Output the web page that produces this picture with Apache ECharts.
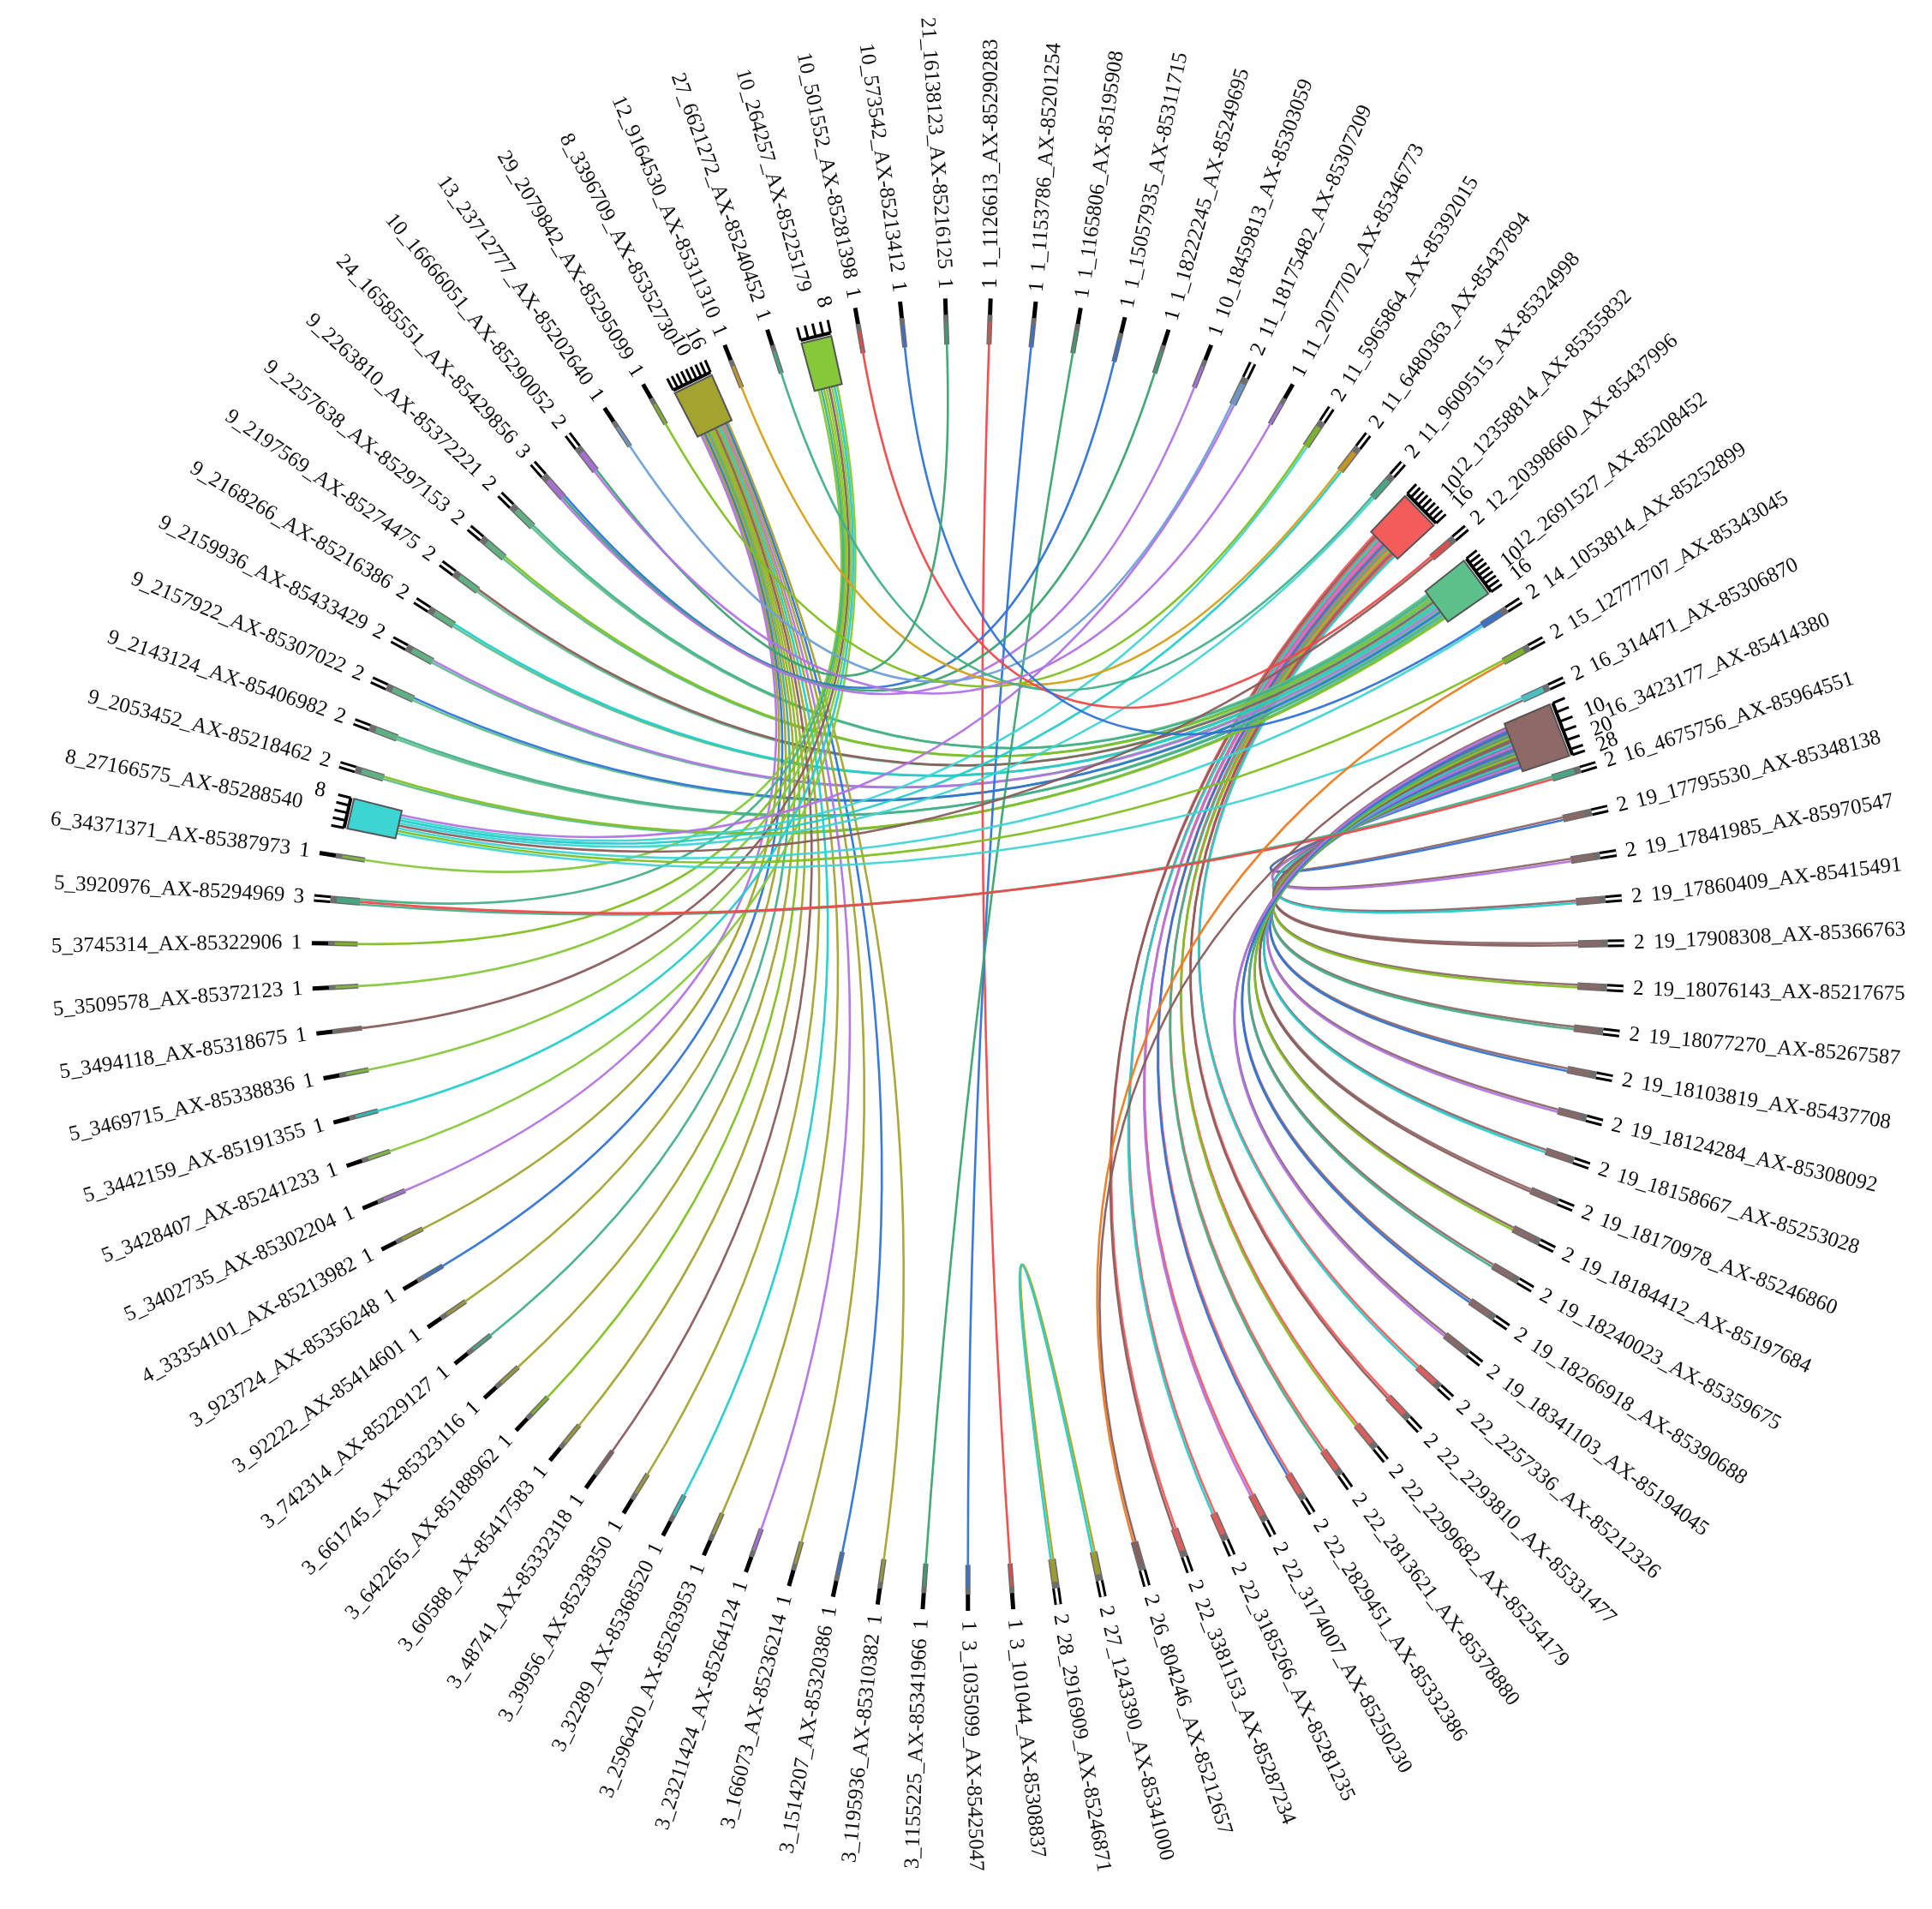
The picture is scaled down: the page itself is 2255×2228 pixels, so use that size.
<!DOCTYPE html>
<html>
<head>
<meta charset="utf-8">
<script src="https://cdn.jsdelivr.net/npm/echarts@6/dist/echarts.min.js"></script>
<style>html,body{margin:0;padding:0;background:#fff}#main{width:2255px;height:2228px}</style>
</head>
<body>
<div id="main"></div>
<script>
// markers, clockwise from the top
var names = [
 '1_1126613_AX-85290283','1_1153786_AX-85201254','1_1165806_AX-85195908','1_15057935_AX-85311715','1_18222245_AX-85249695',
 '10_18459813_AX-85303059','11_18175482_AX-85307209','11_2077702_AX-85346773','11_5965864_AX-85392015','11_6480363_AX-85437894',
 '11_9609515_AX-85324998','12_12358814_AX-85355832','12_20398660_AX-85437996','12_2691527_AX-85208452','14_1053814_AX-85252899',
 '15_12777707_AX-85343045','16_314471_AX-85306870','16_3423177_AX-85414380','16_4675756_AX-85964551','19_17795530_AX-85348138',
 '19_17841985_AX-85970547','19_17860409_AX-85415491','19_17908308_AX-85366763','19_18076143_AX-85217675','19_18077270_AX-85267587',
 '19_18103819_AX-85437708','19_18124284_AX-85308092','19_18158667_AX-85253028','19_18170978_AX-85246860','19_18184412_AX-85197684',
 '19_18240023_AX-85359675','19_18266918_AX-85390688','19_18341103_AX-85194045','22_2257336_AX-85212326','22_2293810_AX-85331477',
 '22_2299682_AX-85254179','22_2813621_AX-85378880','22_2829451_AX-85332386','22_3174007_AX-85250230','22_3185266_AX-85281235',
 '22_3381153_AX-85287234','26_804246_AX-85212657','27_1243390_AX-85341000','28_2916909_AX-85246871','3_101044_AX-85308837',
 '3_1035099_AX-85425047','3_1155225_AX-85341966','3_1195936_AX-85310382','3_1514207_AX-85320386','3_166073_AX-85236214',
 '3_23211424_AX-85264124','3_2596420_AX-85263953','3_32289_AX-85368520','3_39956_AX-85238350','3_48741_AX-85332318',
 '3_60588_AX-85417583','3_642265_AX-85188962','3_661745_AX-85323116','3_742314_AX-85229127','3_92222_AX-85414601',
 '3_923724_AX-85356248','4_33354101_AX-85213982','5_3402735_AX-85302204','5_3428407_AX-85241233','5_3442159_AX-85191355',
 '5_3469715_AX-85338836','5_3494118_AX-85318675','5_3509578_AX-85372123','5_3745314_AX-85322906','5_3920976_AX-85294969',
 '6_34371371_AX-85387973','8_27166575_AX-85288540','9_2053452_AX-85218462','9_2143124_AX-85406982','9_2157922_AX-85307022',
 '9_2159936_AX-85433429','9_2168266_AX-85216386','9_2197569_AX-85274475','9_2257638_AX-85297153','9_2263810_AX-85372221',
 '24_16585551_AX-85429856','10_16666051_AX-85290052','13_23712777_AX-85202640','29_2079842_AX-85295099','8_3396709_AX-85352730',
 '12_9164530_AX-85311310','27_6621272_AX-85240452','10_264257_AX-85225179','10_501552_AX-85281398','10_573542_AX-85213412',
 '21_16138123_AX-85216125'
];

// hub markers and their block colours
var hubColors = {
 '12_12358814_AX-85355832':'#f45b5b','12_2691527_AX-85208452':'#5cc08a','16_3423177_AX-85414380':'#8f6868',
 '8_3396709_AX-85352730':'#a3a330','8_27166575_AX-85288540':'#3ed4d4','10_264257_AX-85225179':'#86c83a'
};

var palette = ['#f04848','#2f73d8','#3aa370','#b173e6','#a6a626','#22cccc','#f07a1e','#8b5c5c','#6fa0d8','#80c020','#d4a017','#44b088'];

// links as [from, to]
var linkPairs = [];
function addLinks(a, list, times) {
    list.forEach(function (b) { for (var t = 0; t < (times || 1); t++) linkPairs.push([a, b]); });
}
addLinks('16_3423177_AX-85414380', names.filter(function (n) { return n.indexOf('19_') === 0; }), 2);
addLinks('12_12358814_AX-85355832', names.filter(function (n) { return n.indexOf('22_') === 0; }), 2);
addLinks('12_2691527_AX-85208452', names.filter(function (n) { return n.indexOf('9_') === 0; }), 2);
addLinks('8_3396709_AX-85352730', names.slice(47, 61).concat(['4_33354101_AX-85213982','5_3402735_AX-85302204']));
addLinks('10_264257_AX-85225179', ['5_3428407_AX-85241233','5_3442159_AX-85191355','5_3469715_AX-85338836','5_3494118_AX-85318675',
 '5_3509578_AX-85372123','5_3745314_AX-85322906','6_34371371_AX-85387973','5_3920976_AX-85294969']);
addLinks('1_1126613_AX-85290283', ['3_101044_AX-85308837']);
addLinks('1_1153786_AX-85201254', ['3_1035099_AX-85425047']);
addLinks('1_1165806_AX-85195908', ['3_1155225_AX-85341966']);
addLinks('8_27166575_AX-85288540', ['11_18175482_AX-85307209','11_5965864_AX-85392015','11_6480363_AX-85437894','11_9609515_AX-85324998',
 '12_20398660_AX-85437996','14_1053814_AX-85252899','15_12777707_AX-85343045','16_314471_AX-85306870']);
addLinks('5_3920976_AX-85294969', ['16_4675756_AX-85964551'], 2);
addLinks('24_16585551_AX-85429856', ['1_15057935_AX-85311715','1_18222245_AX-85249695','10_18459813_AX-85303059']);
addLinks('28_2916909_AX-85246871', ['27_1243390_AX-85341000'], 2);
addLinks('26_804246_AX-85212657', ['15_12777707_AX-85343045','16_314471_AX-85306870']);
addLinks('11_18175482_AX-85307209', ['13_23712777_AX-85202640']);
addLinks('11_5965864_AX-85392015', ['29_2079842_AX-85295099']);
addLinks('11_6480363_AX-85437894', ['12_9164530_AX-85311310']);
addLinks('11_9609515_AX-85324998', ['27_6621272_AX-85240452']);
addLinks('12_20398660_AX-85437996', ['10_501552_AX-85281398']);
addLinks('14_1053814_AX-85252899', ['10_573542_AX-85213412']);
addLinks('10_16666051_AX-85290052', ['21_16138123_AX-85216125','11_2077702_AX-85346773']);

var N = names.length;
var idx = {};
names.forEach(function (n, i) { idx[n] = i; });

// degree and endpoint spread per marker
var ends = names.map(function () { return []; });
linkPairs.forEach(function (p, k) {
    ends[idx[p[0]]].push({ link: k, other: idx[p[1]] });
    ends[idx[p[1]]].push({ link: k, other: idx[p[0]] });
});
var degree = ends.map(function (e) { return e.length; });
function spanOf(d) { return d <= 3 ? 0.06 * d : Math.min(0.3 + d * 0.03, 1.1); }
var endPos = {};
ends.forEach(function (list, i) {
    list.sort(function (a, b) {
        var ra = (a.other - i + N) % N, rb = (b.other - i + N) % N;
        return rb - ra || a.link - b.link;
    });
    var w = spanOf(list.length);
    list.forEach(function (e, k) {
        var off = list.length > 1 ? ((k + 0.5) / list.length - 0.5) * w : 0;
        endPos[e.link + '_' + i] = i + off;
    });
});
function linkColor(k) {
    var p = linkPairs[k];
    var h = hubColors[p[0]];
    if (h && degree[idx[p[0]]] >= 8 && k % 2 === 0) return h;
    return palette[k % palette.length];
}
function nodeColor(i) {
    if (hubColors[names[i]]) return hubColors[names[i]];
    return linkColor(ends[i][0].link);
}

var R_IN = 0.93, R_MID = 0.965, R_OUT = 1.0;
var font = '25px "Liberation Serif", serif';

var myChart = echarts.init(document.getElementById('main'));
var option = {
    backgroundColor: '#ffffff',
    animation: false,
    polar: { center: ['50.1%', '50%'], radius: 766 },
    angleAxis: { type: 'value', min: -0.5, max: N - 0.5, startAngle: 90, clockwise: true, show: false },
    radiusAxis: { type: 'value', min: 0, max: 1, show: false },
    series: [
        {
            type: 'custom',
            coordinateSystem: 'polar',
            data: linkPairs.map(function (p, k) { return [0.5, idx[p[0]], k]; }),
            renderItem: function (params, api) {
                var k = api.value(2);
                var a = endPos[k + '_' + idx[linkPairs[k][0]]];
                var b = endPos[k + '_' + idx[linkPairs[k][1]]];
                var p0 = api.coord([R_IN, a]), p3 = api.coord([R_IN, b]);
                var c1 = api.coord([0.33, a]), c2 = api.coord([0.33, b]);
                return {
                    type: 'bezierCurve',
                    shape: { x1: p0[0], y1: p0[1], x2: p3[0], y2: p3[1], cpx1: c1[0], cpy1: c1[1], cpx2: c2[0], cpy2: c2[1] },
                    style: { stroke: linkColor(k), lineWidth: 2.6, fill: null, opacity: 0.95 }
                };
            }
        },
        {
            type: 'custom',
            coordinateSystem: 'polar',
            data: names.map(function (n, i) { return [1, i, i]; }),
            renderItem: function (params, api) {
                var i = api.value(2);
                var d = degree[i];
                var kids = [];
                var theta = i / N * 360;
                var right = theta < 180;
                var rot = (right ? 90 - theta : 270 - theta) * Math.PI / 180;
                var outerR;
                if (d >= 8) {
                    var w = spanOf(d) / 2 + 0.08;
                    var pts = [api.coord([0.89, i - w]), api.coord([R_MID, i - w]), api.coord([R_MID, i + w]), api.coord([0.89, i + w])];
                    kids.push({ type: 'polygon', shape: { points: pts }, style: { fill: nodeColor(i), stroke: '#555', lineWidth: 2 } });
                    var base = [api.coord([R_MID + 0.005, i - w]), api.coord([R_MID + 0.005, i + w])];
                    kids.push({ type: 'line', shape: { x1: base[0][0], y1: base[0][1], x2: base[1][0], y2: base[1][1] }, style: { stroke: '#000', lineWidth: 4 } });
                    var step = d > 16 ? 5 : 2;
                    var marks = [];
                    for (var t = 0; t <= d; t += step) marks.push(t);
                    if (marks[marks.length - 1] !== d) marks.push(d);
                    marks.forEach(function (t) {
                        var f = i - w + 2 * w * t / d;
                        var q0 = api.coord([R_MID + 0.005, f]), q1 = api.coord([R_MID + 0.025, f]);
                        kids.push({ type: 'line', shape: { x1: q0[0], y1: q0[1], x2: q1[0], y2: q1[1] }, style: { stroke: '#000', lineWidth: 3 } });
                        if (t === d || (t % 10 === 0 && t > 0)) {
                            var q2 = api.coord([R_MID + 0.045, f]);
                            kids.push({ type: 'text', x: q2[0], y: q2[1], rotation: rot,
                                style: { text: String(t), font: font, fill: '#000', align: right ? 'left' : 'right', verticalAlign: 'middle' } });
                        }
                    });
                    outerR = 1.04;
                } else {
                    var s0 = api.coord([R_IN, i]), s1 = api.coord([R_MID, i]), s2 = api.coord([0.975, i]), s3 = api.coord([R_OUT, i]);
                    kids.push({ type: 'line', shape: { x1: s0[0], y1: s0[1], x2: s2[0], y2: s2[1] }, style: { stroke: '#6d6d6d', lineWidth: d > 1 ? 9 : 6 } });
                    kids.push({ type: 'line', shape: { x1: s0[0], y1: s0[1], x2: s1[0], y2: s1[1] }, style: { stroke: nodeColor(i), lineWidth: d > 1 ? 6 : 3, opacity: 0.8 } });
                    kids.push({ type: 'line', shape: { x1: s2[0], y1: s2[1], x2: s3[0], y2: s3[1] }, style: { stroke: '#000', lineWidth: d > 1 ? 9 : 5 } });
                    if (d > 1) kids.push({ type: 'line', shape: { x1: s2[0], y1: s2[1], x2: s3[0], y2: s3[1] }, style: { stroke: '#fff', lineWidth: 3 } });
                    var n0 = api.coord([1.015, i]);
                    kids.push({ type: 'text', x: n0[0], y: n0[1], rotation: rot,
                        style: { text: String(d), font: font, fill: '#000', align: right ? 'left' : 'right', verticalAlign: 'middle' } });
                    outerR = 1.045;
                }
                var lp = api.coord([outerR, i]);
                kids.push({ type: 'text', x: lp[0], y: lp[1], rotation: rot,
                    style: { text: names[i], font: font, fill: '#111', align: right ? 'left' : 'right', verticalAlign: 'middle' } });
                return { type: 'group', children: kids };
            }
        }
    ]
};
myChart.setOption(option);
</script>
</body>
</html>
